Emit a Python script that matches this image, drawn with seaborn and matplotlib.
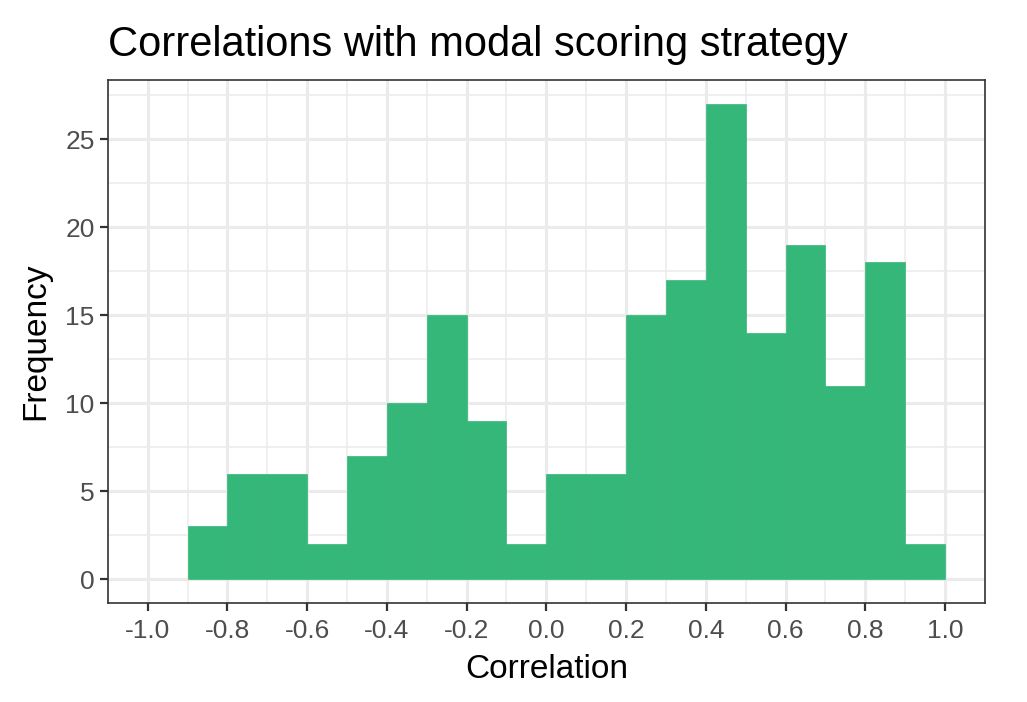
import numpy as np
import pandas as pd
import seaborn as sns
import matplotlib.pyplot as plt

# bin edges (width 0.1) and the count in each bin
bin_edges = [-0.9, -0.8, -0.7, -0.6, -0.5, -0.4, -0.3, -0.2, -0.1, 0.0,
             0.1, 0.2, 0.3, 0.4, 0.5, 0.6, 0.7, 0.8, 0.9, 1.0]
counts = [3, 6, 6, 2, 7, 10, 15, 9, 2, 6, 6, 15, 17, 27, 14, 19, 11, 18, 2]
x_ticks = [-1.0, -0.8, -0.6, -0.4, -0.2, 0.0, 0.2, 0.4, 0.6, 0.8, 1.0]
y_ticks = [0, 5, 10, 15, 20, 25]

sns.set_theme(style="white")
plt.rcParams['font.family'] = ['Liberation Sans', 'DejaVu Sans']

edges = np.array(bin_edges)
df = pd.DataFrame({"mid": (edges[:-1] + edges[1:]) / 2, "n": counts})

fig = plt.figure(figsize=(10.27, 7.02), dpi=100)
ax = fig.add_axes([0.105, 0.141, 0.854, 0.745])

sns.histplot(data=df, x="mid", weights="n", bins=bin_edges, color="#35B779",
             alpha=1, edgecolor="#35B779", linewidth=0.5, ax=ax, zorder=2)

ax.set_xlim(-1.1, 1.1)
ax.set_ylim(-1.35, 28.35)
ax.set_xticks(x_ticks)
ax.set_xticklabels([f"{t:.1f}" for t in x_ticks])
ax.set_yticks(y_ticks)
ax.set_xticks(np.arange(-1.1, 1.11, 0.2), minor=True)
ax.set_yticks(np.arange(2.5, 28, 5), minor=True)

ax.grid(which="major", color="#EBEBEB", linewidth=2.2, zorder=0)
ax.grid(which="minor", color="#EBEBEB", linewidth=1.1, zorder=0)
ax.set_axisbelow(True)

for s in ax.spines.values():
    s.set_color("#333333")
    s.set_linewidth(1.2)

ax.tick_params(axis="both", which="major", length=5.5, width=1.6, color="#333333",
               labelsize=19, labelcolor="#4D4D4D", pad=4, bottom=True, left=True)
ax.tick_params(axis="x", which="major", pad=6)
ax.tick_params(which="minor", length=0)

ax.set_xlabel("Correlation", fontsize=24, color="black", labelpad=8)
ax.set_ylabel("Frequency", fontsize=24, color="black", labelpad=10)
ax.set_title("Correlations with modal scoring strategy", fontsize=30,
             loc="left", pad=17, color="black")

fig.savefig("out.png", dpi=100)
